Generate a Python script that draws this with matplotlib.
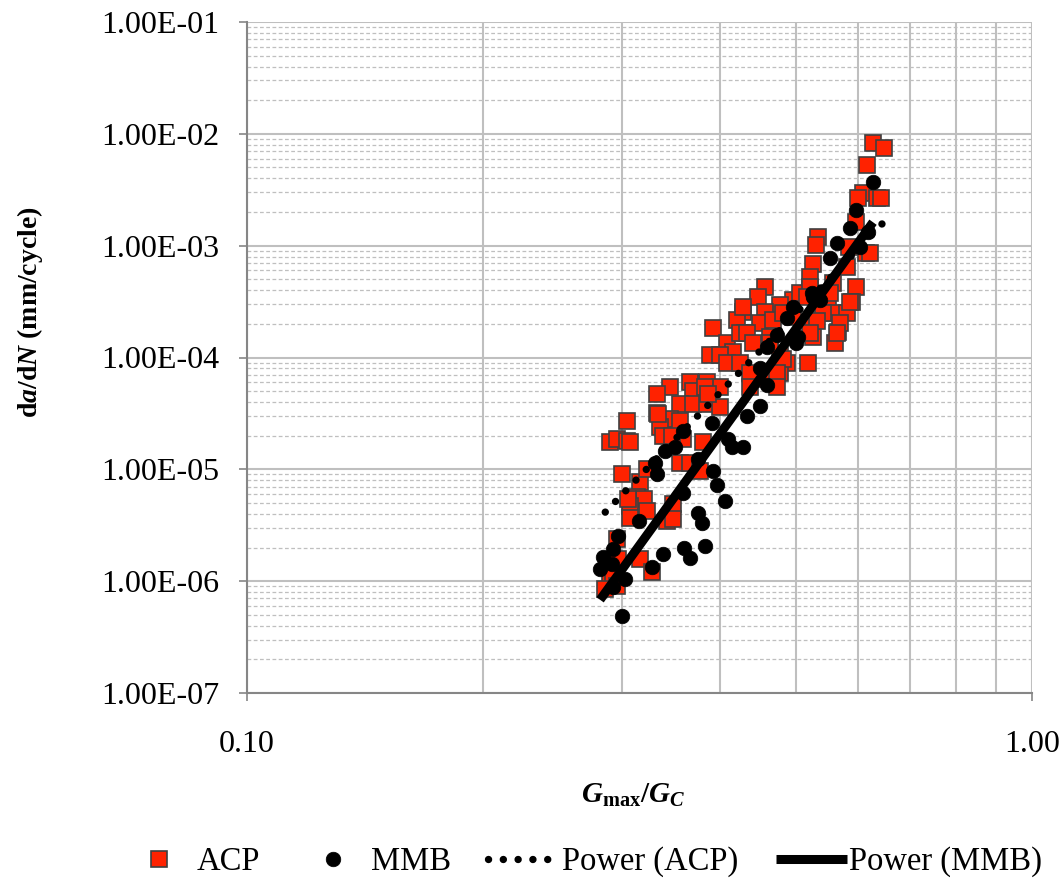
import numpy as np
import matplotlib
matplotlib.use("Agg")
import matplotlib.pyplot as plt
from matplotlib.ticker import FixedLocator, FuncFormatter, NullFormatter

# ---------------- data ----------------
acp_x = [0.627, 0.648, 0.616, 0.609, 0.600, 0.635, 0.643, 0.597, 0.534, 0.531,
         0.585, 0.614, 0.622, 0.526, 0.581, 0.5215, 0.558, 0.597, 0.457, 0.448,
         0.496, 0.550, 0.590, 0.4775, 0.506, 0.5215, 0.429, 0.457, 0.421, 0.450,
         0.468, 0.496, 0.526, 0.558, 0.581, 0.3925, 0.431, 0.566, 0.526, 0.561,
         0.409, 0.389, 0.416, 0.518, 0.4247, 0.434, 0.464, 0.4005, 0.441, 0.4775,
         0.409, 0.425, 0.4875, 0.437, 0.4775, 0.367, 0.386, 0.346, 0.333, 0.370,
         0.4005, 0.437, 0.460, 0.356, 0.370, 0.386, 0.4005, 0.333, 0.305, 0.346,
         0.336, 0.356, 0.290, 0.296, 0.305, 0.3076, 0.339, 0.359, 0.381, 0.356,
         0.367, 0.378, 0.3005, 0.317, 0.3235, 0.314, 0.320, 0.3076, 0.3235, 0.3076,
         0.349, 0.343, 0.349, 0.296, 0.297, 0.317, 0.328, 0.290, 0.2926, 0.296,
         0.306, 0.383, 0.387, 0.334, 0.348, 0.553, 0.586, 0.482, 0.542, 0.532,
         0.569, 0.5215, 0.564, 0.482, 0.4735, 0.4735, 0.286, 0.464, 0.429, 0.517]
acp_y = [8.3e-3, 7.5e-3, 5.3e-3, 2.97e-3, 2.68e-3, 2.68e-3, 2.68e-3, 1.64e-3, 1.20e-3, 1.02e-3,
         9.8e-4, 8.66e-4, 8.66e-4, 6.8e-4, 6.5e-4, 5.3e-4, 4.67e-4, 4.3e-4, 4.3e-4, 3.5e-4,
         3.3e-4, 3.16e-4, 3.16e-4, 2.97e-4, 3.8e-4, 4.3e-4, 2.57e-4, 2.57e-4, 2.18e-4, 2.05e-4,
         2.18e-4, 2.32e-4, 2.18e-4, 2.52e-4, 2.52e-4, 1.85e-4, 1.67e-4, 1.7e-4, 1.54e-4, 1.36e-4,
         1.36e-4, 1.06e-4, 1.11e-4, 9.0e-5, 1.67e-4, 1.67e-4, 1.54e-4, 1.06e-4, 1.36e-4, 1.06e-4,
         9.0e-5, 9.0e-5, 9.0e-5, 7.3e-5, 7.3e-5, 6.0e-5, 6.1e-5, 5.5e-5, 4.67e-5, 5.0e-5,
         5.5e-5, 5.5e-5, 6.4e-5, 3.8e-5, 3.8e-5, 3.8e-5, 3.6e-5, 3.2e-5, 2.68e-5, 2.8e-5,
         2.37e-5, 2.68e-5, 1.74e-5, 1.85e-5, 1.78e-5, 1.74e-5, 1.97e-5, 1.85e-5, 1.74e-5, 1.15e-5,
         1.15e-5, 9.6e-6, 9.0e-6, 7.7e-6, 1.0e-5, 5.7e-6, 5.4e-6, 4.67e-6, 4.2e-6, 3.7e-6,
         4.9e-6, 3.43e-6, 3.6e-6, 2.37e-6, 1.57e-6, 1.57e-6, 1.2e-6, 1.04e-6, 1.1e-6, 9.0e-7,
         5.4e-6, 5.5e-5, 4.67e-5, 3.1e-5, 1.97e-5, 3.8e-4, 3.16e-4, 2.52e-4, 2.52e-4, 2.1e-4,
         2.05e-4, 1.67e-4, 1.67e-4, 9.6e-5, 7.3e-5, 5.5e-5, 8.5e-7, 1.36e-4, 2.8e-4, 3.5e-4]

mmb_x = [0.3005, 0.2817, 0.2842, 0.2926, 0.297, 0.2917, 0.2926, 0.3032, 0.328, 0.339,
         0.3605, 0.367, 0.3834, 0.316, 0.3756, 0.380, 0.4065, 0.397, 0.3925, 0.333,
         0.331, 0.3756, 0.410, 0.415, 0.429, 0.3917, 0.434, 0.4504, 0.460, 0.4504,
         0.503, 0.501, 0.496, 0.487, 0.526, 0.537, 0.564, 0.553, 0.5864, 0.597,
         0.6273, 0.351, 0.341, 0.359, 0.4735, 0.460, 0.618, 0.6038, 0.5246, 0.359]
mmb_y = [4.9e-7, 1.28e-6, 1.64e-6, 1.93e-6, 2.52e-6, 1.42e-6, 8.8e-7, 1.04e-6, 1.33e-6, 1.74e-6,
         2.0e-6, 1.6e-6, 2.05e-6, 3.43e-6, 4.1e-6, 3.3e-6, 5.2e-6, 7.3e-6, 9.6e-6, 9.0e-6,
         1.15e-5, 1.23e-5, 1.85e-5, 1.6e-5, 1.57e-5, 2.6e-5, 2.97e-5, 3.65e-5, 5.7e-5, 8.1e-5,
         1.54e-4, 1.36e-4, 2.85e-4, 2.27e-4, 3.5e-4, 3.3e-4, 1.06e-3, 7.8e-4, 1.45e-3, 2.1e-3,
         3.7e-3, 1.6e-5, 1.45e-5, 2.18e-5, 1.6e-4, 1.23e-4, 1.33e-3, 9.8e-4, 3.8e-4, 6.2e-6]

# Power trendlines y = a * x^b (as shown in the chart)
acp_a, acp_b = 0.039, 7.31
mmb_a, mmb_b = 0.150, 9.71

series_names = ["ACP", "MMB", "Power (ACP)", "Power (MMB)"]
x_ticks = [0.1, 1.0]
y_ticks = [1e-7, 1e-6, 1e-5, 1e-4, 1e-3, 1e-2, 1e-1]

# ---------------- style ----------------
plt.rcParams['font.family'] = ['Liberation Serif', 'DejaVu Serif']
plt.rcParams['mathtext.fontset'] = 'custom'
plt.rcParams['mathtext.rm'] = 'Liberation Serif:bold'
plt.rcParams['mathtext.bf'] = 'Liberation Serif:bold'
plt.rcParams['mathtext.it'] = 'Liberation Serif:bold:italic'

RED = '#FF2200'
GRID = '#BFBFBF'

fig = plt.figure(figsize=(10.59, 8.90), dpi=100)
ax = fig.add_axes([247/1059, 1-693/890, (1032-247)/1059, (693-22)/890])
ax.set_xscale('log')
ax.set_yscale('log')
ax.set_xlim(0.1, 1.0)
ax.set_ylim(1e-7, 1e-1)

# grid
ax.yaxis.set_major_locator(FixedLocator(y_ticks))
ax.yaxis.set_minor_locator(FixedLocator(
    [m * 10.0**e for e in range(-7, -1) for m in range(2, 10)]))
ax.xaxis.set_major_locator(FixedLocator(x_ticks))
ax.xaxis.set_minor_locator(FixedLocator([m / 10 for m in range(2, 10)]))
ax.grid(True, which='major', axis='y', color=GRID, lw=1.5, ls='-', zorder=0)
ax.grid(True, which='minor', axis='y', color=GRID, lw=0.9, ls=(0, (3, 2)), zorder=0)
ax.grid(True, which='minor', axis='x', color=GRID, lw=1.5, ls='-', zorder=0)
ax.grid(True, which='major', axis='x', color=GRID, lw=1.5, ls='-', zorder=0)
ax.set_axisbelow(True)

for s in ['top', 'right']:
    ax.spines[s].set_visible(False)
for s in ['left', 'bottom']:
    ax.spines[s].set_color('#868686')
    ax.spines[s].set_linewidth(1.5)

ax.tick_params(which='major', direction='out', length=6, width=1.2, color='#868686',
               labelsize=23)
ax.tick_params(which='minor', length=0)
ax.tick_params(axis='y', which='major', pad=14)
ax.tick_params(axis='x', which='major', pad=21)
ax.yaxis.set_major_formatter(FuncFormatter(lambda v, p: f"{v:.2E}"))
ax.xaxis.set_major_formatter(FuncFormatter(lambda v, p: f"{v:.2f}"))
ax.yaxis.set_minor_formatter(NullFormatter())
ax.xaxis.set_minor_formatter(NullFormatter())

# data
ax.plot(acp_x, acp_y, ls='none', marker='s', ms=11.5, mfc=RED, mec='#404040',
        mew=1.2, zorder=3, label=series_names[0])
ax.plot(mmb_x, mmb_y, ls='none', marker='o', ms=10.5, mfc='black', mec='black',
        mew=0.5, zorder=4, label=series_names[1])

xa = np.linspace(min(acp_x), max(acp_x), 200)
xm = np.linspace(min(mmb_x), max(mmb_x), 200)
ax.plot(xa, acp_a * xa**acp_b, color='black', lw=5.3, ls=(0, (0.01, 2.0)),
        dash_capstyle='round', zorder=5, label=series_names[2])
ax.plot(xm, mmb_a * xm**mmb_b, color='black', lw=6.5, ls='-',
        solid_capstyle='butt', zorder=6, label=series_names[3])

# labels
fig.text(30/1059, 1-312/890, r'$\mathrm{d}a/\mathrm{d}N\ \mathrm{(mm/cycle)}$',
         rotation=90, ha='center', va='center', fontsize=20)
fig.text(633/1059, 1-795/890, r'$G_{\mathrm{max}}/G_C$', ha='center', va='center',
         fontsize=21)

handles, labels = ax.get_legend_handles_labels()
fig.legend(handles, labels, loc='center', bbox_to_anchor=(0.55, 1-862/890), ncol=4,
           frameon=False, fontsize=23.5, handlelength=2.2, handletextpad=0.05,
           columnspacing=1.15, borderaxespad=0)

fig.savefig('out.png', dpi=100)
